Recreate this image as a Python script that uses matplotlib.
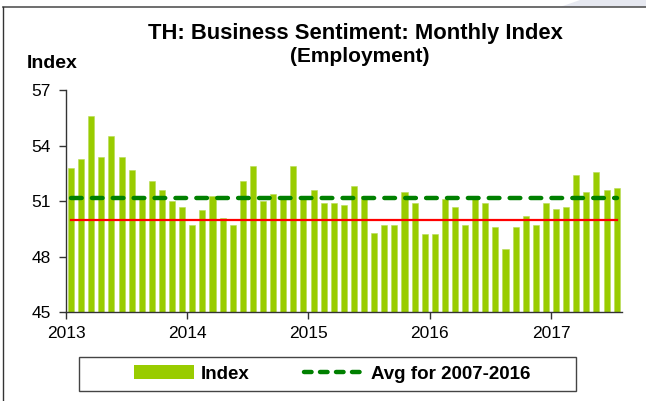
import matplotlib.pyplot as plt
from matplotlib.patches import Rectangle, Patch, Polygon
from matplotlib.lines import Line2D
import numpy as np

plt.rcParams['font.family'] = ['Liberation Sans', 'DejaVu Sans']

# monthly index, Jan 2013 - Jul 2017
values = [52.8, 53.3, 55.6, 53.4, 54.5, 53.4, 52.7, 51.2, 52.1, 51.6, 51.0, 50.7,
          49.7, 50.5, 51.3, 50.1, 49.7, 52.1, 52.9, 51.0, 51.4, 51.3, 52.9, 51.1,
          51.6, 50.9, 50.9, 50.8, 51.8, 51.3, 49.3, 49.7, 49.7, 51.5, 50.9, 49.2,
          49.2, 51.1, 50.7, 49.7, 51.1, 50.9, 49.6, 48.4, 49.6, 50.2, 49.7, 50.9,
          50.6, 50.7, 52.4, 51.5, 52.6, 51.6, 51.7]
avg_2007_2016 = 51.15
threshold = 50.0
years = ['2013', '2014', '2015', '2016', '2017']
yticks = [45, 48, 51, 54, 57]

W, H = 646, 401
fig = plt.figure(figsize=(W / 100, H / 100), dpi=100)

# outer frame + little corner shading
fig.patches.append(Polygon([(560 / W, 1 - 7 / H), (580 / W, 1), (1, 1), (1, 1 - 7 / H)],
                           closed=True, transform=fig.transFigure,
                           facecolor='#e6e8f0', edgecolor='none'))
fig.lines.append(Line2D([3 / W, 1], [1 - 7 / H, 1 - 7 / H], transform=fig.transFigure,
                        color='#555555', lw=1.2))
fig.lines.append(Line2D([3 / W, 3 / W], [0, 1 - 7 / H], transform=fig.transFigure,
                        color='#333333', lw=1.0))

ax = fig.add_axes([66 / W, 1 - 312.3 / H, (621.7 - 66) / W, (312.3 - 90) / H])

x = np.arange(len(values))
ax.bar(x, values, width=0.6, bottom=0, color='#99cc00', edgecolor='#b8dc55',
       linewidth=0.4, zorder=2)
ax.plot(x, [avg_2007_2016] * len(x), color='#008000', lw=3.2, dashes=(2.4, 2.3),
        dash_capstyle='round', zorder=4)
ax.plot(x, [threshold] * len(x), color='#ff0000', lw=1.6, zorder=3)

ax.set_ylim(45, 57)
ax.set_xlim(-0.5, len(values) - 0.5)
ax.set_yticks(yticks)
ax.set_xticks(np.arange(len(years)) * 12 - 0.5)
ax.set_xticklabels(years)
ax.tick_params(axis='both', direction='out', length=5, width=1, color='#333333',
               labelsize=12.5, pad=5)
ax.tick_params(axis='y', pad=6)
for s in ['top', 'right']:
    ax.spines[s].set_visible(False)
for s in ['left', 'bottom']:
    ax.spines[s].set_color('#333333')
    ax.spines[s].set_linewidth(1)

fig.text(355 / W, 1 - 33 / H, 'TH: Business Sentiment: Monthly Index', ha='center',
         va='center', fontsize=15.8, fontweight='bold')
fig.text(360 / W, 1 - 57 / H, '(Employment)', ha='center', va='center',
         fontsize=15, fontweight='bold')
fig.text(27 / W, 1 - 63 / H, 'Index', ha='left', va='center', fontsize=14,
         fontweight='bold')

# legend box
fig.patches.append(Rectangle((79 / W, 1 - 391 / H), (576 - 79) / W, (391 - 357) / H,
                             transform=fig.transFigure, facecolor='white',
                             edgecolor='#444444', lw=1))
handles = [Patch(facecolor='#99cc00', edgecolor='none'),
           Line2D([0], [0], color='#008000', lw=3.2, dashes=(1.7, 1.9),
                  dash_capstyle='round')]
fig.legend(handles, ['Index', 'Avg for 2007-2016'], loc='center',
           bbox_to_anchor=(332 / W, 1 - 374 / H), ncol=2, frameon=False,
           prop={'weight': 'bold', 'size': 13.5}, handlelength=3.2,
           handletextpad=0.37, columnspacing=2.9)

fig.savefig('out.png', dpi=100)
